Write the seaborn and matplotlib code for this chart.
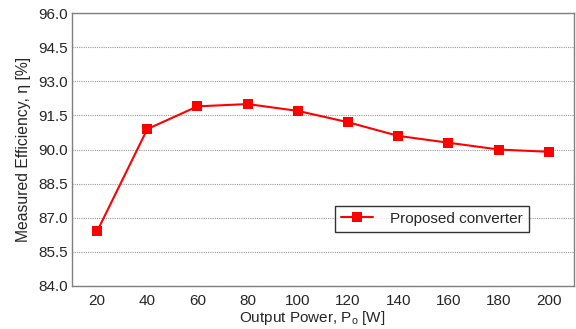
import numpy as np
import pandas as pd
import matplotlib
matplotlib.use("Agg")
import matplotlib.pyplot as plt
import seaborn as sns
from matplotlib.ticker import MultipleLocator, FixedLocator

# data
power = [20, 40, 60, 80, 100, 120, 140, 160, 180, 200]
efficiency = [86.4, 90.9, 91.9, 92.0, 91.7, 91.2, 90.6, 90.3, 90.0, 89.9]
series_name = "Proposed converter"

sns.set_style("white")
plt.rcParams["font.family"] = ["Liberation Sans", "DejaVu Sans"]
plt.rcParams["mathtext.fontset"] = "custom"
plt.rcParams["mathtext.rm"] = "Liberation Sans"

df = pd.DataFrame({"power": power, "eff": efficiency, "series": series_name})

fig = plt.figure(figsize=(5.76, 3.29), dpi=100)
ax = fig.add_axes([0.125, 0.131, 0.8715, 0.829])

sns.lineplot(data=df, x="power", y="eff", hue="series", palette=["#ff0000"],
             marker="s", markersize=6.5, markeredgewidth=0, linewidth=1.5, ax=ax)

ax.set_xlim(10, 210)
ax.set_ylim(84.0, 96.0)
ax.yaxis.set_major_locator(MultipleLocator(1.5))
ax.set_yticklabels([f"{v:.1f}" for v in ax.get_yticks()])
ax.xaxis.set_major_locator(FixedLocator(power))
ax.xaxis.set_minor_locator(FixedLocator([p + 10 for p in power[:-1]]))
ax.tick_params(axis="x", which="major", length=0, labelsize=11, pad=6)
ax.tick_params(axis="x", which="minor", length=3, direction="in", color="#555555")
ax.tick_params(axis="y", length=0, labelsize=11, pad=3)

ax.grid(axis="y", linestyle=(0, (1, 1)), color="#999999", linewidth=0.8)
ax.set_axisbelow(True)
for s in ax.spines.values():
    s.set_color("#808080")
    s.set_linewidth(1.0)

ax.set_xlabel(r"Output Power, P$_\mathrm{o}$ [W]", fontsize=11, labelpad=0)
ax.xaxis.set_label_coords(0.478, -0.085)
ax.set_ylabel("Measured Efficiency, η [%]", fontsize=11.3, labelpad=5)

leg = ax.legend(loc="center", bbox_to_anchor=(0.717, 0.246), fontsize=11,
                frameon=True, fancybox=False, edgecolor="black",
                handlelength=2.1, handletextpad=1.1, borderpad=0.4,
                borderaxespad=0)
leg.get_frame().set_linewidth(1.0)

plt.savefig("out.png", dpi=100)
plt.close()
